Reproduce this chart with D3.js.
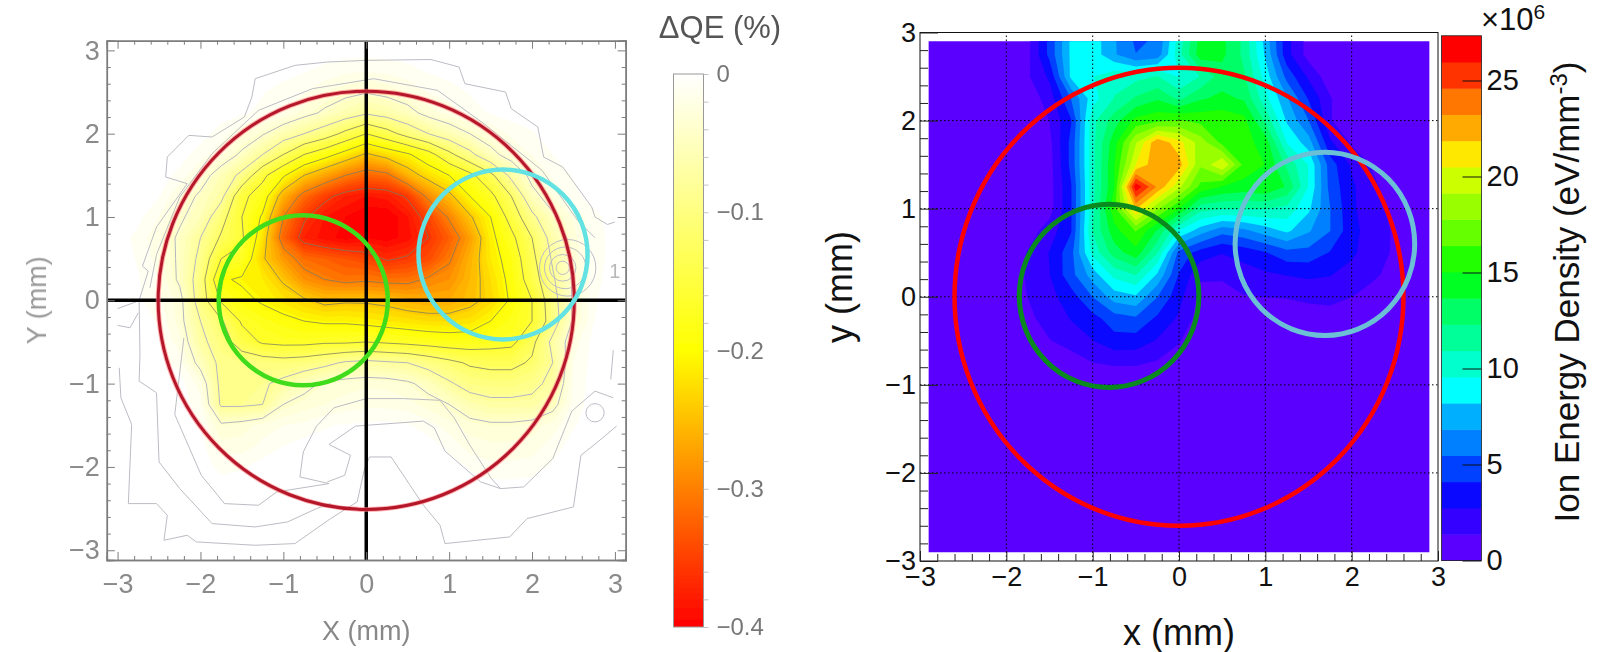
<!DOCTYPE html>
<html>
<head>
<meta charset="utf-8">
<script src="https://cdn.jsdelivr.net/npm/d3@7"></script>
<style>
    html, body { margin: 0; background: #fff; }
    text { font-family: "Liberation Sans", Arial, sans-serif; }
</style>
</head>
<body>
<svg id="chart" width="1600" height="652"></svg>
<script>
// grid columns / rows for both maps, mm (rows go top to bottom)
const gridX = [-3, -2.75, -2.5, -2.25, -2, -1.75, -1.5, -1.25, -1, -0.75, -0.5, -0.25, 0, 0.25, 0.5, 0.75, 1, 1.25, 1.5, 1.75, 2, 2.25, 2.5, 2.75, 3];
const gridY = gridX.slice().reverse();

// left map: QE drop in %, stored as positive numbers (label is -value)
const qeDrop = [
    [0,0,0,0,0,0,0,0,0,0,0,0,0,0,0,0,0,0,0,0,0,0,0,0,0],
    [0,0,0,0,0,0,0,0,0,.004,.008,.012,.014,.012,.008,.004,0,0,0,0,0,0,0,0,0],
    [0,0,0,0,0,0,0,.004,.01,.014,.024,.032,.038,.032,.024,.014,.01,.004,0,0,0,0,0,0,0],
    [0,0,0,0,0,0,.003,.008,.015,.03,.045,.06,.075,.065,.05,.03,.02,.01,.004,0,0,0,0,0,0],
    [0,0,0,0,0,.01,.023,.037,.06,.08,.1,.13,.16,.135,.105,.08,.058,.04,.024,.012,.006,0,0,0,0],
    [0,0,0,0,.01,.022,.045,.08,.12,.16,.185,.215,.245,.225,.205,.175,.13,.09,.05,.026,.014,.005,0,0,0],
    [0,0,0,.008,.026,.055,.09,.15,.195,.24,.27,.3,.32,.31,.26,.225,.2,.17,.13,.07,.03,.012,.004,0,0],
    [0,0,.004,.025,.045,.07,.15,.18,.26,.315,.35,.375,.385,.38,.355,.29,.25,.2,.17,.12,.05,.025,.008,0,0],
    [0,.002,.015,.035,.055,.105,.16,.205,.3,.355,.385,.395,.405,.405,.385,.345,.295,.245,.2,.145,.09,.045,.023,.008,0],
    [0,.008,.023,.045,.08,.125,.155,.22,.32,.375,.39,.4,.395,.4,.39,.36,.325,.275,.21,.17,.12,.065,.028,.01,0],
    [0,.006,.02,.045,.09,.16,.17,.235,.28,.315,.325,.335,.345,.365,.355,.34,.305,.26,.215,.185,.13,.075,.03,.01,0],
    [0,.004,.015,.045,.1,.195,.205,.215,.245,.285,.3,.31,.305,.31,.31,.295,.285,.255,.225,.19,.14,.085,.035,.008,0],
    [0,.003,.012,.03,.1,.165,.19,.205,.22,.235,.25,.245,.245,.25,.26,.265,.265,.25,.23,.195,.16,.095,.035,.006,0],
    [0,0,.006,.03,.08,.115,.165,.18,.19,.2,.205,.205,.21,.215,.22,.225,.225,.22,.2,.18,.16,.1,.035,.005,0],
    [0,0,.004,.02,.07,.1,.14,.165,.17,.17,.165,.165,.16,.165,.17,.175,.18,.18,.175,.17,.13,.07,.02,0,0],
    [0,0,0,.01,.05,.09,.095,.1,.105,.1,.09,.075,.07,.075,.08,.095,.11,.125,.13,.13,.115,.08,.015,0,0],
    [0,0,0,0,.02,.09,.09,.085,.07,.05,.035,.03,.027,.028,.035,.05,.075,.095,.1,.1,.09,.07,.012,0,0],
    [0,0,0,0,.01,.085,.085,.08,.04,.03,.025,.02,.018,.018,.02,.03,.04,.06,.07,.07,.07,.05,.01,0,0],
    [0,0,0,0,.005,.035,.03,.02,.015,.012,.006,.004,.002,.002,.004,.01,.02,.03,.035,.035,.03,.02,.006,0,0],
    [0,0,0,0,0,.02,.02,.012,.005,0,0,0,0,0,0,0,.008,.02,.022,.022,.02,.01,0,0,0],
    [0,0,0,0,0,.008,.006,0,0,0,0,0,0,0,0,0,0,.006,.012,.012,.01,.003,0,0,0],
    [0,0,0,0,0,0,0,0,0,0,0,0,0,0,0,0,0,0,0,0,0,0,0,0,0],
    [0,0,0,0,0,0,0,0,0,0,0,0,0,0,0,0,0,0,0,0,0,0,0,0,0],
    [0,0,0,0,0,0,0,0,0,0,0,0,0,0,0,0,0,0,0,0,0,0,0,0,0],
    [0,0,0,0,0,0,0,0,0,0,0,0,0,0,0,0,0,0,0,0,0,0,0,0,0]
];
const qeLevels = [.04, .08, .12, .16, .2, .24, .3, .36];

// faint outer contours of the left map, [x, y] in mm
const outerTop = [[3,.94],[2.91,.91],[2.76,1],[2.72,1.12],[2.37,1.6],[2.14,1.72],[2.07,2.08],[1.75,2.3],[1.68,2.5],[1.19,2.6],[1.12,2.8],[.78,2.89],[0,2.88],[-.47,2.86],[-.86,2.82],[-1.34,2.66],[-1.38,2.44],[-1.47,2.2],[-1.86,1.96],[-2.14,1.98],[-2.4,1.72],[-2.42,1.48],[-2.16,1.4],[-2.53,.88],[-2.7,.41],[-2.63,.35],[-2.74,0],[-2.73,-.65],[-2.74,-.97],[-2.53,-1.11],[-2.5,-1.94],[-2.25,-2.26],[-1.86,-2.68],[-1.34,-2.72],[-.95,-2.66],[-.6,-2.5],[-.43,-2.44]];
const outerSecond = [[2.76,.75],[2.55,.96],[2.12,1.56],[1.42,2.12],[.86,2.52],[.09,2.66],[-.65,2.54],[-1.3,2.28],[-1.86,1.76],[-2.25,1.24],[-2.53,.55],[-2.61,.15]];
const outerLow = [[-2.98,-.81],[-2.96,-1.17],[-2.83,-1.49],[-2.87,-2.44],[-2.53,-2.44],[-2.4,-2.58],[-2.44,-2.88],[-2.16,-2.82],[-2.05,-2.9],[-1.34,-2.94],[-.86,-2.92],[-.43,-2.62],[-.11,-2.42],[-.02,-2.02],[.04,-1.88],[.3,-1.88],[.69,-2.46],[.89,-2.7],[.95,-2.92],[1.73,-2.84],[1.94,-2.62],[2.5,-2.48],[2.59,-1.86],[2.78,-1.71],[3.02,-1.51]];
const archOne = [[-2.2,-.45],[-2.31,-1.37],[-1.99,-2.1],[-1.71,-2.44],[-1.3,-2.46],[-1.08,-2.3],[-.45,-2.2],[-.8,-2.12],[-.76,-1.82],[-.6,-1.51],[-.39,-1.29],[0,-1.18],[.45,-1.18],[.89,-1.2],[1.06,-1.41],[1.25,-1.74],[1.51,-2.14],[1.62,-2.26],[1.9,-2.24],[2.25,-1.9],[2.48,-1.33],[2.76,-1.09],[2.98,-1.17]];
const archTwo = [[-.47,-2.18],[-.26,-2.1],[-.19,-1.86],[-.45,-1.73],[-.13,-1.51],[.69,-1.45],[.82,-1.53],[.95,-1.81],[1.38,-2.18],[1.62,-2.26]];
const edgeBits = [[[2.98,-.6],[2.95,-.95]], [[-3,-.1],[-2.78,-.02]], [[-3,-.3],[-2.85,-.33],[-2.75,-.15]]];
// small closed contours: x, y, radius (mm)
const spots = [[2.37,.39,.08],[2.37,.39,.16],[2.4,.39,.25],[2.43,.39,.34],[2.76,-1.35,.11]];

// right map: ion energy density in units of 1e6 eV/mm3
const ionDensity = [
    [0,0,0,0,0,1,4.5,8.5,9,7,5,5.5,10,14,14,12,7.5,3.2,.8,0,0,0,0,0,0],
    [0,0,0,0,0,1,4.5,8.5,9,7,5.5,6,10.5,14.5,14,12,8,3.2,.8,0,0,0,0,0,0],
    [0,0,0,0,0,1.2,3,8.5,9.5,10.5,10.5,11,9.5,11,13,12.5,9,5,2.5,.5,0,0,0,0,0],
    [0,0,0,0,0,.5,2,5.5,9,11,12.5,13.5,12,13.5,14,13.5,10,7,4,1.5,0,0,0,0,0],
    [0,0,0,0,0,0,1.4,4,10.5,13,15.5,16,16.5,16,16,15.5,12,8,5.5,1.5,0,0,0,0,0],
    [0,0,0,0,0,0,1,4.5,10.5,14.5,19,23,21,18.5,16,15.5,14.5,9.5,7.5,3,1.2,0,0,0,0],
    [0,0,0,0,0,0,.8,4.5,10.5,15,20.5,23,22.5,18,20.5,16,15,12,9.5,4.8,2.5,1.2,0,0,0],
    [0,0,0,0,0,0,.8,4,10.5,15,27,23,19.5,16,15,14.5,15,13.5,9.5,5,3,1.6,.8,0,0],
    [0,0,0,0,0,0,.8,4,10.5,16,22,18,15,11.5,11,11,11,10.5,8.5,5.5,3,1.8,1,0,0],
    [0,0,0,0,0,.7,2,4,11,14.5,16.5,13.5,9.5,7.5,6,6.5,7.5,8.5,7,5.5,3.2,2,1.2,0,0],
    [0,0,0,0,0,1.5,2.8,5,10,13,14.5,11,5,3.5,2.8,3.3,4,5,5,4,3,1.9,1.2,0,0],
    [0,0,0,0,.3,1.6,2.7,5,7.5,10,11,8,4,1.6,1.6,2.1,2.5,2.8,3,2.8,2.2,1.6,.9,0,0],
    [0,0,0,0,.5,1.4,2.3,3.5,5.5,7.5,8,5.5,3.2,.9,.8,1.3,1.4,1.5,1.7,1.8,1.4,.8,0,0,0],
    [0,0,0,0,0,1,2,2.8,3.6,4.8,5.2,3.8,2.5,.7,0,0,0,0,.6,.7,0,0,0,0,0],
    [0,0,0,0,0,0,1.3,2,2.7,3.6,3.5,2.6,1.5,0,0,0,0,0,0,0,0,0,0,0,0],
    [0,0,0,0,0,0,0,.6,1.35,1.6,1.6,1.2,.6,0,0,0,0,0,0,0,0,0,0,0,0],
    [0,0,0,0,0,0,0,0,0,0,0,0,0,0,0,0,0,0,0,0,0,0,0,0,0],
    [0,0,0,0,0,0,0,0,0,0,0,0,0,0,0,0,0,0,0,0,0,0,0,0,0],
    [0,0,0,0,0,0,0,0,0,0,0,0,0,0,0,0,0,0,0,0,0,0,0,0,0],
    [0,0,0,0,0,0,0,0,0,0,0,0,0,0,0,0,0,0,0,0,0,0,0,0,0],
    [0,0,0,0,0,0,0,0,0,0,0,0,0,0,0,0,0,0,0,0,0,0,0,0,0],
    [0,0,0,0,0,0,0,0,0,0,0,0,0,0,0,0,0,0,0,0,0,0,0,0,0],
    [0,0,0,0,0,0,0,0,0,0,0,0,0,0,0,0,0,0,0,0,0,0,0,0,0],
    [0,0,0,0,0,0,0,0,0,0,0,0,0,0,0,0,0,0,0,0,0,0,0,0,0],
    [0,0,0,0,0,0,0,0,0,0,0,0,0,0,0,0,0,0,0,0,0,0,0,0,0]
];
const ionBandStep = 1.3665;
const ionPalette = ['#5a00ff','#3400ff','#0a08ff','#0040ff','#0080ff','#00b0ff','#00ffff','#00ffcc','#00ff99','#00ff66','#00ff22','#22ff00','#66ff00','#99ff00','#ccff00','#ffe800','#ffaa00','#ff7700','#ff3300','#ff0000'];

// circles: x, y, r in mm
const leftCircles = [
    { x: 0, y: 0, r: 2.51, color: '#b4162c', width: 3 },
    { x: -0.76, y: 0, r: 1.02, color: '#3fdc1e', width: 4.5 },
    { x: 1.65, y: 0.55, r: 1.02, color: '#62e2e2', width: 4.5 }
];
const rightCircles = [
    { x: 0, y: 0, r: 2.6, color: '#ff0000', width: 4.5 },
    { x: -0.81, y: 0.01, r: 1.04, color: '#0a8a1e', width: 5 },
    { x: 1.69, y: 0.6, r: 1.04, color: '#6cc0d6', width: 5 }
];

const axisTicks = [-3, -2, -1, 0, 1, 2, 3];
const minorTicks = d3.range(-30, 31, 2).map(d => d / 10).filter(d => !axisTicks.includes(d));
const qeTicks = [0, -0.1, -0.2, -0.3, -0.4];
const qeMinorTicks = [-.02, -.04, -.06, -.08, -.12, -.14, -.16, -.18, -.22, -.24, -.26, -.28, -.32, -.34, -.36, -.38];
const ionTicks = [0, 5, 10, 15, 20, 25];

const svg = d3.select('#chart');
const flat = rows => rows.flat();
const intFmt = d3.format('d');
const fontFamily = '"Liberation Sans", Arial, sans-serif';

// the left panel is a soft, low-resolution picture in the reference
const defs = svg.append('defs');
defs.append('filter').attr('id', 'soft').append('feGaussianBlur').attr('stdDeviation', 0.55);

// ---------- left map ----------
const xL = d3.scaleLinear().domain([-3.13, 3.13]).range([106.8, 625.7]);
const yL = d3.scaleLinear().domain([-3.117, 3.116]).range([560, 40.7]);
const qeColor = d3.scaleLinear().domain([0, 0.2, 0.4]).range(['#ffffff', '#ffff00', '#ff0000']);

function gridPath(x, y) {
    const step = gridX[1] - gridX[0];
    return d3.geoPath(d3.geoTransform({
        point(px, py) {
            this.stream.point(x(gridX[0] + (px - 0.5) * step), y(gridY[0] - (py - 0.5) * step));
        }
    }));
}

svg.append('clipPath').attr('id', 'clipL').append('rect')
    .attr('x', xL.range()[0]).attr('y', yL.range()[1])
    .attr('width', xL.range()[1] - xL.range()[0]).attr('height', yL.range()[0] - yL.range()[1]);

const left = svg.append('g').attr('filter', 'url(#soft)');
const leftMap = left.append('g').attr('clip-path', 'url(#clipL)');
const contoursN = d3.contours().size([gridX.length, gridY.length]);
const pathL = gridPath(xL, yL);

const fillLevels = d3.range(0.005, 0.4, 0.01);
leftMap.selectAll('path.fill')
    .data(contoursN.thresholds(fillLevels)(flat(qeDrop)))
    .enter().append('path')
    .attr('d', pathL)
    .attr('fill', d => qeColor(d.value + 0.005))
    .attr('stroke', d => qeColor(d.value + 0.005))
    .attr('stroke-width', 0.3);

leftMap.selectAll('path.level')
    .data(contoursN.thresholds(qeLevels)(flat(qeDrop)))
    .enter().append('path')
    .attr('d', pathL)
    .attr('fill', 'none')
    .attr('stroke', d => d.value < 0.1 ? '#b4b6c0' : '#7a7a60')
    .attr('stroke-opacity', d => d.value < 0.1 ? 1 : 0.75)
    .attr('stroke-width', 1);

const lineL = d3.line().x(d => xL(d[0])).y(d => yL(d[1]));
leftMap.selectAll('path.outer')
    .data([outerTop, outerSecond, outerLow, archOne, archTwo, ...edgeBits])
    .enter().append('path')
    .attr('d', lineL)
    .attr('fill', 'none')
    .attr('stroke', '#bcbcc4')
    .attr('stroke-width', 1);

leftMap.selectAll('ellipse.spot')
    .data(spots)
    .enter().append('ellipse')
    .attr('cx', d => xL(d[0])).attr('cy', d => yL(d[1]))
    .attr('rx', d => xL(d[2]) - xL(0)).attr('ry', d => yL(0) - yL(d[2]))
    .attr('fill', 'none')
    .attr('stroke', '#bcbcc8');

leftMap.append('text').attr('x', xL(3.0)).attr('y', yL(0.35))
    .attr('text-anchor', 'middle').attr('dy', '0.36em')
    .attr('font-size', 20).attr('fill', '#b8b8b8').text('1');

// crosshair
leftMap.append('line').attr('x1', xL(0)).attr('x2', xL(0)).attr('y1', yL.range()[0]).attr('y2', yL.range()[1])
    .attr('stroke', '#000').attr('stroke-width', 3.5);
leftMap.append('line').attr('y1', yL(0)).attr('y2', yL(0)).attr('x1', xL.range()[0]).attr('x2', xL.range()[1])
    .attr('stroke', '#000').attr('stroke-width', 3.5);

// red circle has a pink halo in the reference
leftMap.append('ellipse')
    .attr('cx', xL(0)).attr('cy', yL(0))
    .attr('rx', xL(leftCircles[0].r) - xL(0)).attr('ry', yL(0) - yL(leftCircles[0].r))
    .attr('fill', 'none').attr('stroke', '#ff7d7d').attr('stroke-width', 5).attr('stroke-opacity', 0.6);

function drawCircles(g, circles, x, y) {
    g.selectAll('ellipse.ring')
        .data(circles)
        .enter().append('ellipse')
        .attr('cx', d => x(d.x)).attr('cy', d => y(d.y))
        .attr('rx', d => x(d.r) - x(0)).attr('ry', d => y(0) - y(d.r))
        .attr('fill', 'none')
        .attr('stroke', d => d.color)
        .attr('stroke-width', d => d.width);
}
drawCircles(leftMap, leftCircles, xL, yL);

// frame, ticks on all four sides
function styleAxis(g, color) {
    g.selectAll('path.domain').attr('stroke', color).attr('stroke-width', 1.5);
    g.selectAll('line').attr('stroke', color);
}
const grey = '#7d7d7d';
[
    [d3.axisBottom(xL), 0, yL.range()[0]],
    [d3.axisTop(xL), 0, yL.range()[1]],
    [d3.axisLeft(yL), xL.range()[0], 0],
    [d3.axisRight(yL), xL.range()[1], 0]
].forEach(([axis, tx, ty]) => {
    left.append('g').attr('transform', `translate(${tx},${ty})`)
        .call(axis.tickValues(minorTicks).tickSize(-4).tickFormat(''))
        .call(g => styleAxis(g, grey));
    left.append('g').attr('transform', `translate(${tx},${ty})`)
        .call(axis.tickValues(axisTicks).tickSize(-8).tickFormat(''))
        .call(g => styleAxis(g, grey));
});

left.append('g').attr('transform', `translate(0,${yL.range()[0]})`)
    .call(d3.axisBottom(xL).tickValues(axisTicks).tickSize(0).tickPadding(14).tickFormat(intFmt))
    .call(g => g.select('.domain').remove())
    .call(g => g.selectAll('text').attr('font-size', 27).attr('fill', '#8a8a8a').attr('font-family', fontFamily));
left.append('g').attr('transform', `translate(${xL.range()[0]},0)`)
    .call(d3.axisLeft(yL).tickValues(axisTicks).tickSize(0).tickPadding(7).tickFormat(intFmt))
    .call(g => g.select('.domain').remove())
    .call(g => g.selectAll('text').attr('font-size', 27).attr('fill', '#8a8a8a').attr('font-family', fontFamily));

left.append('text').attr('x', xL(0)).attr('y', 630).attr('dy', '0.36em')
    .attr('text-anchor', 'middle').attr('font-size', 27).attr('fill', '#888').text('X (mm)');
left.append('text').attr('transform', `translate(36,${yL(0)}) rotate(-90)`).attr('dy', '0.36em')
    .attr('text-anchor', 'middle').attr('font-size', 27).attr('fill', '#999').text('Y (mm)');

// left colour bar
const qeBar = d3.scaleLinear().domain([0, -0.4]).range([74, 627]);
const grad = defs.append('linearGradient').attr('id', 'qeGrad').attr('x1', 0).attr('x2', 0).attr('y1', 0).attr('y2', 1);
[0, 0.2, 0.4].forEach(d => {
    grad.append('stop').attr('offset', d / 0.4).attr('stop-color', qeColor(d));
});
left.append('rect').attr('x', 673.5).attr('y', qeBar(0)).attr('width', 30)
    .attr('height', qeBar(-0.4) - qeBar(0))
    .attr('fill', 'url(#qeGrad)').attr('stroke', '#999').attr('stroke-width', 1);
left.append('g').attr('transform', 'translate(703.5,0)')
    .call(d3.axisRight(qeBar).tickValues(qeMinorTicks).tickSize(5).tickFormat(''))
    .call(g => g.select('.domain').remove())
    .call(g => g.selectAll('line').attr('stroke', '#c4c4c4'));
left.append('g').attr('transform', 'translate(703.5,0)')
    .call(d3.axisRight(qeBar).tickValues(qeTicks).tickSize(5).tickPadding(8).tickFormat(d => d === 0 ? '0' : d3.format('.1f')(d)))
    .call(g => g.select('.domain').remove())
    .call(g => g.selectAll('line').attr('stroke', '#c4c4c4'))
    .call(g => g.selectAll('text').attr('font-size', 24).attr('fill', '#777').attr('font-family', fontFamily));
left.append('text').attr('x', 720).attr('y', 27).attr('dy', '0.36em')
    .attr('text-anchor', 'middle').attr('font-size', 31).attr('fill', '#555').text('ΔQE (%)');

// ---------- right map ----------
const xR = d3.scaleLinear().domain([-3, 3]).range([920, 1438]);
const yR = d3.scaleLinear().domain([-3, 3]).range([561, 32.5]);
const right = svg.append('g');

svg.append('clipPath').attr('id', 'clipR').append('rect')
    .attr('x', xR(-2.9)).attr('y', yR(2.9))
    .attr('width', xR(2.9) - xR(-2.9)).attr('height', yR(-2.9) - yR(2.9));

const rightMap = right.append('g').attr('clip-path', 'url(#clipR)');
rightMap.append('rect').attr('x', xR(-3)).attr('y', yR(3))
    .attr('width', xR(3) - xR(-3)).attr('height', yR(-3) - yR(3))
    .attr('fill', ionPalette[0]);

const pathR = gridPath(xR, yR);
const ionLevels = ionPalette.slice(1).map((c, i) => (i + 1) * ionBandStep);
rightMap.selectAll('path.band')
    .data(contoursN.thresholds(ionLevels)(flat(ionDensity)))
    .enter().append('path')
    .attr('d', pathR)
    .attr('fill', (d, i) => ionPalette[i + 1]);

// dotted grid at integer mm
right.selectAll('line.gx')
    .data(axisTicks.slice(1, -1))
    .enter().append('line')
    .attr('x1', d => xR(d)).attr('x2', d => xR(d))
    .attr('y1', yR(-3)).attr('y2', yR(3))
    .attr('stroke', '#000').attr('stroke-width', 1).attr('stroke-dasharray', '1.5,2.5');
right.selectAll('line.gy')
    .data(axisTicks.slice(1, -1))
    .enter().append('line')
    .attr('y1', d => yR(d)).attr('y2', d => yR(d))
    .attr('x1', xR(-3)).attr('x2', xR(3))
    .attr('stroke', '#000').attr('stroke-width', 1).attr('stroke-dasharray', '1.5,2.5');

drawCircles(right, rightCircles, xR, yR);

right.append('rect').attr('x', xR(-3)).attr('y', yR(3))
    .attr('width', xR(3) - xR(-3)).attr('height', yR(-3) - yR(3))
    .attr('fill', 'none').attr('stroke', '#111').attr('stroke-width', 1);

right.append('g').attr('transform', `translate(0,${yR(-3)})`)
    .call(d3.axisTop(xR).tickValues(minorTicks).tickSize(7).tickFormat(''))
    .call(g => g.select('.domain').remove())
    .call(g => g.selectAll('line').attr('stroke', '#222'));
right.append('g').attr('transform', `translate(0,${yR(-3)})`)
    .call(d3.axisTop(xR).tickValues(axisTicks).tickSize(10).tickFormat(''))
    .call(g => g.select('.domain').remove())
    .call(g => g.selectAll('line').attr('stroke', '#222'));
right.append('g').attr('transform', `translate(${xR(-3)},0)`)
    .call(d3.axisRight(yR).tickValues(minorTicks).tickSize(8).tickFormat(''))
    .call(g => g.select('.domain').remove())
    .call(g => g.selectAll('line').attr('stroke', '#222'));
right.append('g').attr('transform', `translate(${xR(-3)},0)`)
    .call(d3.axisRight(yR).tickValues(axisTicks).tickSize(18).tickFormat(''))
    .call(g => g.select('.domain').remove())
    .call(g => g.selectAll('line').attr('stroke', '#222'));

right.append('g').attr('transform', `translate(0,${yR(-3)})`)
    .call(d3.axisBottom(xR).tickValues(axisTicks).tickSize(0).tickPadding(6).tickFormat(intFmt))
    .call(g => g.select('.domain').remove())
    .call(g => g.selectAll('text').attr('font-size', 27).attr('fill', '#111').attr('font-family', fontFamily));
right.append('g').attr('transform', `translate(${xR(-3)},0)`)
    .call(d3.axisLeft(yR).tickValues(axisTicks).tickSize(0).tickPadding(4).tickFormat(intFmt))
    .call(g => g.select('.domain').remove())
    .call(g => g.selectAll('text').attr('font-size', 27).attr('fill', '#111').attr('font-family', fontFamily));

right.append('text').attr('x', xR(0)).attr('y', 632).attr('dy', '0.36em')
    .attr('text-anchor', 'middle').attr('font-size', 36).attr('fill', '#111').text('x (mm)');
right.append('text').attr('transform', `translate(839,287) rotate(-90)`).attr('dy', '0.36em')
    .attr('text-anchor', 'middle').attr('font-size', 36).attr('fill', '#111').text('y (mm)');

// right colour bar, one rect per contour band
const ionBar = d3.scaleLinear().domain([0, 5]).range([560.5, 464.5]);
right.selectAll('rect.band')
    .data(ionPalette)
    .enter().append('rect')
    .attr('x', 1441.5).attr('width', 40)
    .attr('y', (d, i) => ionBar((i + 1) * ionBandStep))
    .attr('height', (d, i) => ionBar(i * ionBandStep) - ionBar((i + 1) * ionBandStep) + 0.5)
    .attr('fill', d => d);
right.append('rect').attr('x', 1441.5).attr('width', 40)
    .attr('y', ionBar(20 * ionBandStep)).attr('height', ionBar(0) - ionBar(20 * ionBandStep))
    .attr('fill', 'none').attr('stroke', '#222').attr('stroke-width', 0.8);
right.append('g').attr('transform', 'translate(1481.5,0)')
    .call(d3.axisLeft(ionBar).tickValues(ionTicks).tickSize(19).tickPadding(-24).tickFormat(intFmt))
    .call(g => g.select('.domain').remove())
    .call(g => g.selectAll('line').attr('stroke', '#111'))
    .call(g => g.selectAll('text').attr('text-anchor', 'start').attr('font-size', 29).attr('fill', '#111').attr('font-family', fontFamily));

const expo = right.append('text').attr('x', 1481).attr('y', 30).attr('font-size', 31).attr('fill', '#111');
expo.append('tspan').text('×10');
expo.append('tspan').attr('dy', -11).attr('font-size', 21).text('6');

const barTitle = right.append('text').attr('transform', 'translate(1566,292) rotate(-90)').attr('dy', '0.36em')
    .attr('text-anchor', 'middle').attr('font-size', 35).attr('fill', '#111');
barTitle.append('tspan').text('Ion Energy Density (eV/mm');
barTitle.append('tspan').attr('dy', -12).attr('font-size', 24).text('-3');
barTitle.append('tspan').attr('dy', 12).text(')');
</script>
</body>
</html>
